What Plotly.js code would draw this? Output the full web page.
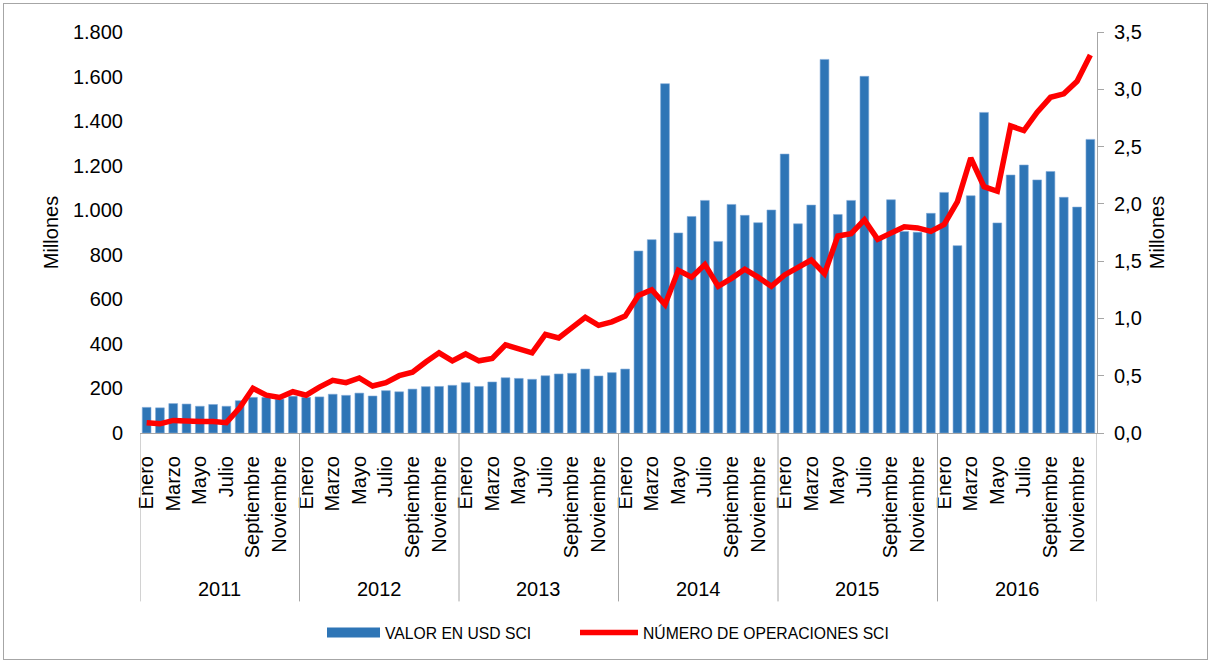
<!DOCTYPE html>
<html>
<head>
<meta charset="utf-8">
<script src="https://cdn.plot.ly/plotly-3.0.1.min.js"></script>
<style>
  html, body { margin: 0; padding: 0; background: #fff; }
  #wrap { position: relative; width: 1212px; height: 664px; }
  #chart { width: 1212px; height: 664px; }
  #frame { position: absolute; left: 3px; top: 3px; width: 1203px; height: 655px; border: 1px solid #A6A6A6; pointer-events: none; }
</style>
</head>
<body>
<div id="wrap"><div id="chart"></div><div id="frame"></div></div>
<script>
const years = ['2011', '2012', '2013', '2014', '2015', '2016'];
const months = ['Enero', 'Febrero', 'Marzo', 'Abril', 'Mayo', 'Junio', 'Julio', 'Agosto', 'Septiembre', 'Octubre', 'Noviembre', 'Diciembre'];

// VALOR EN USD SCI (millones)
const valor2011 = [115, 113, 132, 130, 120, 128, 120, 145, 160, 160, 152, 165];
const valor2012 = [160, 162, 174, 169, 179, 166, 190, 185, 197, 208, 209, 214];
const valor2013 = [226, 209, 229, 248, 245, 241, 257, 265, 268, 287, 256, 271];
const valor2014 = [287, 817, 868, 1568, 898, 972, 1044, 860, 1026, 977, 944, 1001];
const valor2015 = [1252, 939, 1023, 1677, 981, 1044, 1601, 880, 1047, 905, 901, 986];
const valor2016 = [1080, 841, 1065, 1439, 943, 1158, 1203, 1136, 1174, 1058, 1014, 1318];

// NÚMERO DE OPERACIONES SCI (millones)
const oper2011 = [0.09, 0.08, 0.11, 0.10, 0.10, 0.10, 0.09, 0.22, 0.39, 0.33, 0.31, 0.36];
const oper2012 = [0.33, 0.40, 0.46, 0.44, 0.48, 0.41, 0.44, 0.50, 0.53, 0.62, 0.70, 0.63];
const oper2013 = [0.69, 0.63, 0.65, 0.77, 0.74, 0.70, 0.86, 0.83, 0.92, 1.01, 0.94, 0.97];
const oper2014 = [1.02, 1.20, 1.25, 1.12, 1.42, 1.36, 1.47, 1.28, 1.35, 1.43, 1.36, 1.28];
const oper2015 = [1.38, 1.44, 1.51, 1.39, 1.72, 1.74, 1.86, 1.69, 1.75, 1.80, 1.79, 1.76];
const oper2016 = [1.82, 2.02, 2.40, 2.15, 2.11, 2.68, 2.64, 2.80, 2.93, 2.96, 3.07, 3.30];

const seriesNames = ['VALOR EN USD SCI', 'NÚMERO DE OPERACIONES SCI'];
const axisTitle = 'Millones';

const valor = [].concat(valor2011, valor2012, valor2013, valor2014, valor2015, valor2016);
const oper = [].concat(oper2011, oper2012, oper2013, oper2014, oper2015, oper2016);
const xIdx = valor.map((_, i) => i);
const hoverLabels = xIdx.map(i => months[i % 12] + ' ' + years[Math.floor(i / 12)]);

const tickvals = xIdx.filter(i => i % 2 === 0);
const ticktext = tickvals.map(i => months[i % 12]);

const FONT = '"Liberation Sans", Arial, sans-serif';
const GREY = '#A6A6A6';
const BLUE = '#2E75B6';

const shapes = [];
for (let k = 0; k <= years.length; k++) {
  shapes.push({
    type: 'line', xref: 'x', yref: 'paper',
    x0: k * 12 - 0.5, x1: k * 12 - 0.5, y0: 0, y1: -0.42,
    line: { color: GREY, width: 1 }
  });
}
const annotations = years.map((y, k) => ({
  text: y, xref: 'x', yref: 'paper', x: k * 12 + 5.5, y: -0.389,
  xanchor: 'center', yanchor: 'middle', showarrow: false,
  font: { family: FONT, size: 20, color: '#000' }
}));

const traces = [
  {
    type: 'bar', name: seriesNames[0], x: xIdx, y: valor, customdata: hoverLabels,
    hovertemplate: '%{customdata}: %{y}<extra></extra>',
    marker: { color: BLUE, line: { color: '#7FA9D8', width: 0.6 } },
    yaxis: 'y', showlegend: false, legendgroup: 'valor'
  },
  {
    // legend entry for the bar series (wide swatch as in the original)
    type: 'scatter', mode: 'lines', name: seriesNames[0], x: [null], y: [null],
    line: { color: BLUE, width: 10 }, legendgroup: 'valor', hoverinfo: 'skip',
    yaxis: 'y', legend: 'legend'
  },
  {
    type: 'scatter', mode: 'lines', name: seriesNames[1], x: xIdx, y: oper, customdata: hoverLabels,
    hovertemplate: '%{customdata}: %{y}<extra></extra>',
    line: { color: '#FF0000', width: 5.5, shape: 'linear' },
    yaxis: 'y2', legend: 'legend2'
  }
];

const legendFont = { family: FONT, size: 15.7, color: '#000' };
const layout = {
  width: 1212, height: 664,
  margin: { l: 140, r: 115, t: 32, b: 231, pad: 0 },
  paper_bgcolor: '#fff', plot_bgcolor: 'rgba(0,0,0,0)',
  separators: ',.',
  font: { family: FONT, size: 20, color: '#000' },
  bargap: 0.34,
  showlegend: true,
  legend: {
    orientation: 'h', x: (322 - 140) / 957, xanchor: 'left', y: -0.498, yanchor: 'middle',
    font: legendFont, itemwidth: 53, itemclick: false, bgcolor: 'rgba(0,0,0,0)'
  },
  legend2: {
    orientation: 'h', x: (575 - 140) / 957, xanchor: 'left', y: -0.498, yanchor: 'middle',
    font: legendFont, itemwidth: 58, itemclick: false, bgcolor: 'rgba(0,0,0,0)'
  },
  xaxis: {
    range: [-0.5, 71.5], tickmode: 'array', tickvals: tickvals, ticktext: ticktext,
    tickangle: -90, ticks: '', showgrid: false, zeroline: false,
    showline: true, linecolor: GREY, linewidth: 1,
    ticklabelstandoff: 14,
    tickfont: { family: FONT, size: 20, color: '#000' }
  },
  yaxis: {
    range: [0, 1800], dtick: 200, tick0: 0, showgrid: false, zeroline: false,
    separatethousands: true, tickformat: ',d',
    ticks: '', showline: false, ticklabelstandoff: 16,
    tickfont: { family: FONT, size: 20, color: '#000' },
    title: { text: axisTitle, standoff: 8, font: { family: FONT, size: 20, color: '#000' } }
  },
  yaxis2: {
    range: [0, 3.5], dtick: 0.5, tick0: 0, overlaying: 'y', side: 'right',
    tickformat: '.1f', showgrid: false, zeroline: false,
    showline: true, linecolor: GREY, linewidth: 1,
    ticks: 'outside', ticklen: 6, tickcolor: GREY, ticklabelstandoff: 6,
    tickfont: { family: FONT, size: 20, color: '#000' },
    title: { text: axisTitle, standoff: 9, font: { family: FONT, size: 20, color: '#000' } }
  },
  shapes: shapes,
  annotations: annotations
};

Plotly.newPlot('chart', traces, layout, { displayModeBar: false, staticPlot: true });
</script>
</body>
</html>
